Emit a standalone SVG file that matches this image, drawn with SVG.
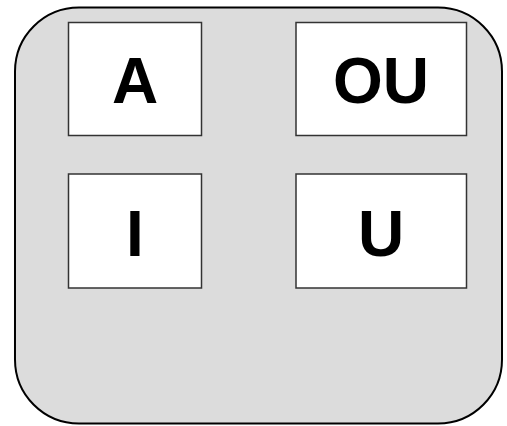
<svg xmlns="http://www.w3.org/2000/svg" width="507" height="426" viewBox="0 0 507 426">
<style>
.box{fill:#ffffff;stroke:#333333;stroke-width:1.5}
.lbl{font-family:"Liberation Sans",Arial,sans-serif;font-weight:bold;font-size:64px;fill:#000000;text-anchor:middle}
</style>
<rect x="0" y="0" width="507" height="426" fill="#ffffff"/>
<g id="container">
<rect x="15" y="7.5" width="487" height="416" rx="64" ry="64" fill="#dcdcdc" stroke="#000000" stroke-width="2"/>
</g>
<g id="node-A">
<rect class="box" x="68.5" y="22.5" width="133" height="113"/>
<text class="lbl" x="135" y="103">A</text>
</g>
<g id="node-OU">
<rect class="box" x="296" y="22.5" width="170.5" height="113"/>
<text class="lbl" x="381" y="103">OU</text>
</g>
<g id="node-I">
<rect class="box" x="68.5" y="174" width="133" height="114"/>
<text class="lbl" x="135" y="256">I</text>
</g>
<g id="node-U">
<rect class="box" x="296" y="174" width="170.5" height="114"/>
<text class="lbl" x="381" y="256">U</text>
</g>
<g id="connectors"></g>
</svg>
